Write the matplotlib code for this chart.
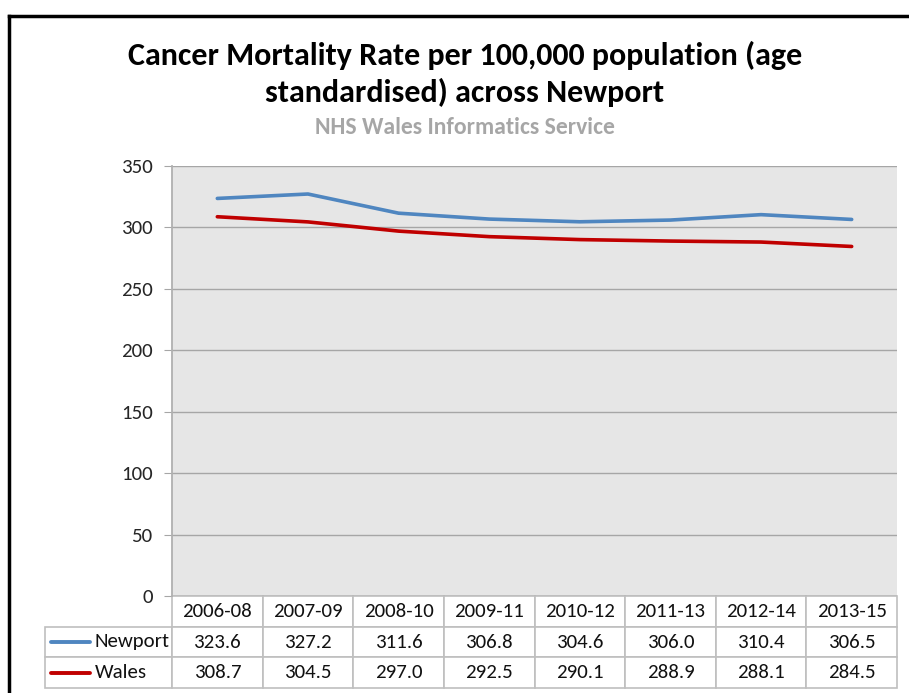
import matplotlib.pyplot as plt
from matplotlib.table import Table
from matplotlib.lines import Line2D

periods = ["2006-08", "2007-09", "2008-10", "2009-11", "2010-12", "2011-13", "2012-14", "2013-15"]
newport = [323.6, 327.2, 311.6, 306.8, 304.6, 306.0, 310.4, 306.5]
wales = [308.7, 304.5, 297.0, 292.5, 290.1, 288.9, 288.1, 284.5]
series_names = ["Newport", "Wales"]
series_colors = ["#4f86c0", "#c00000"]
yticks = [0, 50, 100, 150, 200, 250, 300, 350]

plt.rcParams["font.family"] = ["Carlito", "DejaVu Sans"]

W, H = 909, 693
fig = plt.figure(figsize=(W / 100, H / 100), dpi=100)

# plot area in pixels: x 172..897, y 166..596
ax = fig.add_axes([172 / W, 1 - 596 / H, (897 - 172) / W, (596 - 166) / H])
ax.set_facecolor("#e6e6e6")
x = range(len(periods))
for vals, c in zip([newport, wales], series_colors):
    ax.plot(x, vals, color=c, lw=2.6, solid_capstyle="round")
ax.set_xlim(-0.5, len(periods) - 0.5)
ax.set_ylim(0, 350)
ax.set_yticks(yticks)
ax.set_xticks([])
ax.yaxis.grid(True, color="#a6a6a6", lw=1)
ax.set_axisbelow(True)
for s in ["top", "right", "bottom"]:
    ax.spines[s].set_visible(False)
ax.spines["left"].set_color("#b0b0b0")
ax.spines["left"].set_linewidth(1.3)
ax.tick_params(axis="y", length=6, color="#a6a6a6", labelsize=15, pad=8,
               labelcolor="#262626")

# data table under the plot
rows = [newport, wales]
tb = Table(ax, bbox=[(45 - 172) / 725, -92 / 430, (897 - 45) / 725, 92 / 430])
lab_w, col_w, h = 127, 725 / len(periods), 1
for j, p in enumerate(periods):
    tb.add_cell(0, j + 1, col_w, h, text=p, loc="center")
for i, (name, vals) in enumerate(zip(series_names, rows)):
    cell = tb.add_cell(i + 1, 0, lab_w, h, text=name, loc="left")
    cell.PAD = (95 - 45) / lab_w
    for j, v in enumerate(vals):
        tb.add_cell(i + 1, j + 1, col_w, h, text=f"{v:.1f}", loc="center")
tb.auto_set_font_size(False)
for (r, c), cell in tb.get_celld().items():
    cell.set_edgecolor("#bfbfbf")
    cell.set_linewidth(1.2)
    cell.get_text().set_fontsize(15)
    cell.get_text().set_color("#111111")
ax.add_table(tb)

# legend keys in the table's row labels
for i, c in enumerate(series_colors):
    yk = 1 - (641.5 + 31 * i) / H
    fig.add_artist(Line2D([51 / W, 90 / W], [yk, yk], color=c, lw=2.8,
                          solid_capstyle="round", transform=fig.transFigure))

fig.text(465 / W, 1 - 55 / H, "Cancer Mortality Rate per 100,000 population (age",
         ha="center", va="center", fontsize=23, fontweight="bold")
fig.text(465 / W, 1 - 92 / H, "standardised) across Newport",
         ha="center", va="center", fontsize=23, fontweight="bold")
fig.text(465 / W, 1 - 127 / H, "NHS Wales Informatics Service",
         ha="center", va="center", fontsize=17, fontweight="bold", color="#a6a6a6")

# black frame on top and left
fig.add_artist(Line2D([9 / W, 1], [1 - 16 / H, 1 - 16 / H], color="black", lw=2.5,
                      transform=fig.transFigure))
fig.add_artist(Line2D([9 / W, 9 / W], [0, 1 - 16 / H], color="black", lw=2.5,
                      transform=fig.transFigure))

fig.savefig("out.png", dpi=100)
